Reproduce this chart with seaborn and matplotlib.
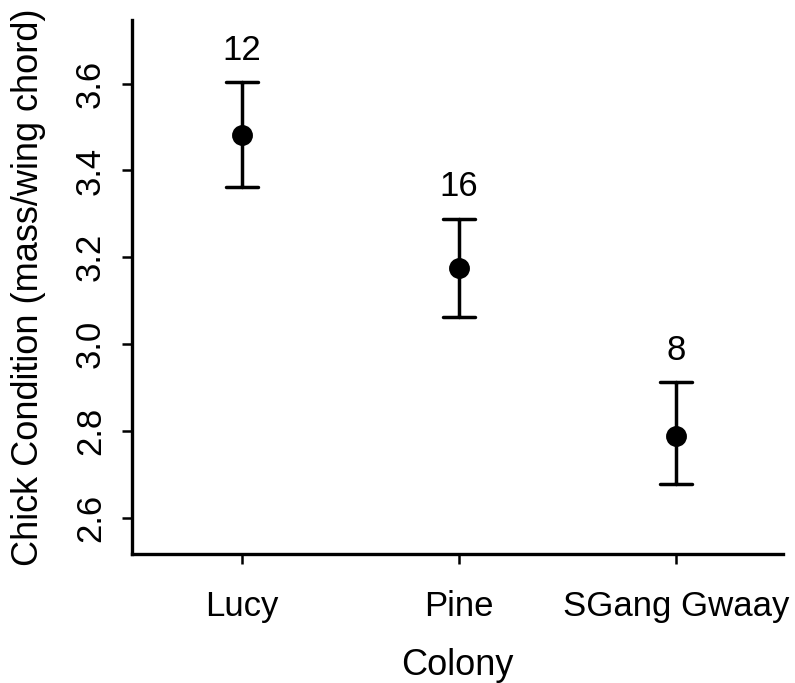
import numpy as np
import pandas as pd
import matplotlib
matplotlib.use("Agg")
import matplotlib.pyplot as plt
import seaborn as sns

colonies = ["Lucy", "Pine", "SGang Gwaay"]
means = [3.482, 3.176, 2.789]
lower = [3.361, 3.063, 2.678]
upper = [3.603, 3.289, 2.912]
n_labels = ["12", "16", "8"]
yticks = [2.6, 2.8, 3.0, 3.2, 3.4, 3.6]

sns.set_theme(style="white")
plt.rcParams['font.family'] = ['Liberation Sans', 'DejaVu Sans']

rows = []
for c, lo, m, hi in zip(colonies, lower, means, upper):
    for v in (lo, m, hi):
        rows.append({"Colony": c, "val": v})
df = pd.DataFrame(rows)

fig = plt.figure(figsize=(7.95, 6.83), dpi=100)
ax = fig.add_axes([0.166, 0.189, 0.819, 0.782])

sns.pointplot(data=df, x="Colony", y="val", order=colonies,
              estimator="median", errorbar=("pi", 100),
              color="black", linestyle="none", markers="o",
              markersize=13, capsize=0.15,
              err_kws={"linewidth": 2.5}, ax=ax)

for i, (hi, lab) in enumerate(zip(upper, n_labels)):
    ax.annotate(lab, (i, hi), xytext=(0, 23), textcoords="offset points",
                ha="center", va="center", fontsize=25, color="black")

ax.set_xlim(-0.507, 2.493)
ax.set_ylim(2.517, 3.747)
ax.set_yticks(yticks)
ax.set_yticklabels([f"{t:.1f}" for t in yticks], rotation=90, va="center")
ax.tick_params(axis="both", which="both", length=7, width=1.8,
               labelsize=25, color="black", labelcolor="black",
               direction="out", left=True, bottom=True)
ax.tick_params(axis="y", pad=11)
ax.tick_params(axis="x", pad=19)
for s in ["top", "right"]:
    ax.spines[s].set_visible(False)
for s in ["left", "bottom"]:
    ax.spines[s].set_linewidth(2.4)
    ax.spines[s].set_color("black")
ax.set_xlabel("Colony", fontsize=26, labelpad=18, color="black")
ax.set_ylabel("Chick Condition (mass/wing chord)", fontsize=26, labelpad=20, color="black")
ax.set_facecolor("white")
fig.patch.set_facecolor("white")

fig.savefig("out.png", dpi=100)
